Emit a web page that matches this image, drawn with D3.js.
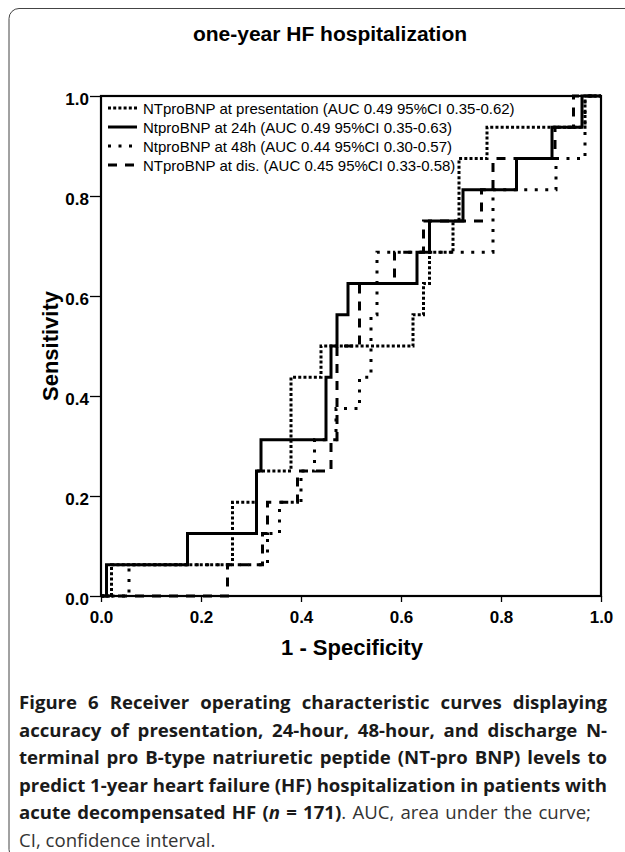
<!DOCTYPE html>
<html>
<head>
<meta charset="utf-8">
<script src="https://cdn.jsdelivr.net/npm/d3@7"></script>
<style>
    body { margin: 0; background: #fff; }
    svg { display: block; }
</style>
</head>
<body>
<div id="chart"></div>
<script>
// ROC steps, 16 hospitalized patients -> sensitivity moves in 1/16 steps
// each point = (1 - specificity, sensitivity) where the curve steps up
const presFpr  = [0, 0.021, 0.263, 0.311, 0.380, 0.440, 0.624, 0.645, 0.657, 0.704, 0.716, 0.772, 0.968, 1];
const presSens = [0, 0.0625, 0.1875, 0.25, 0.4375, 0.5, 0.5625, 0.625, 0.6875, 0.75, 0.875, 0.9375, 1, 1];

const h24Fpr  = [0, 0.011, 0.173, 0.311, 0.320, 0.450, 0.460, 0.472, 0.494, 0.632, 0.657, 0.724, 0.831, 0.902, 0.962, 1];
const h24Sens = [0, 0.0625, 0.125, 0.25, 0.3125, 0.4375, 0.5, 0.5625, 0.625, 0.6875, 0.75, 0.8125, 0.875, 0.9375, 1, 1];

const h48Fpr  = [0, 0.056, 0.333, 0.357, 0.400, 0.427, 0.470, 0.517, 0.540, 0.552, 0.784, 0.910, 0.968, 1];
const h48Sens = [0, 0.0625, 0.125, 0.1875, 0.25, 0.3125, 0.375, 0.4375, 0.5625, 0.6875, 0.8125, 0.875, 1, 1];

const disFpr  = [0, 0.253, 0.323, 0.333, 0.393, 0.460, 0.472, 0.517, 0.587, 0.645, 0.761, 0.784, 0.908, 0.945, 1];
const disSens = [0, 0.0625, 0.125, 0.1875, 0.25, 0.3125, 0.5, 0.625, 0.6875, 0.75, 0.8125, 0.875, 0.9375, 1, 1];

const legendLabels = [
    'NTproBNP at presentation (AUC 0.49 95%CI 0.35-0.62)',
    'NtproBNP at 24h (AUC 0.49 95%CI 0.35-0.63)',
    'NtproBNP at 48h (AUC 0.44 95%CI 0.30-0.57)',
    'NTproBNP at dis. (AUC 0.45 95%CI 0.33-0.58)'
];

const xTicks = [0, 0.2, 0.4, 0.6, 0.8, 1.0];
const yTicks = [0, 0.2, 0.4, 0.6, 0.8, 1.0];

const chartTitle = 'one-year HF hospitalization';
const xTitle = '1 - Specificity';
const yTitle = 'Sensitivity';

// caption lines, each a list of [text, bold, italic]
const captionLines = [
    [['Figure 6 Receiver operating characteristic curves displaying', true, false]],
    [['accuracy of presentation, 24-hour, 48-hour, and discharge N-', true, false]],
    [['terminal pro B-type natriuretic peptide (NT-pro BNP) levels to', true, false]],
    [['predict 1-year heart failure (HF) hospitalization in patients with', true, false]],
    [['acute decompensated HF (', true, false], ['n', true, true], [' = 171)', true, false], ['. AUC, area under the curve;', false, false]],
    [['CI, confidence interval.', false, false]]
];


class RocChart {

    constructor() {
        this.width = 625;
        this.height = 852;

        this.svg = d3.select('#chart')
            .append('svg')
            .attr('width', this.width)
            .attr('height', this.height);

        this.xScale = d3.scaleLinear()
            .domain([0, 1])
            .range([101, 601]);

        this.yScale = d3.scaleLinear()
            .domain([0, 1])
            .range([596, 96]);

        this.series = [
            { fpr: presFpr, sens: presSens, dash: '3,2.2', width: 3 },
            { fpr: h48Fpr, sens: h48Sens, dash: '3,7.5', width: 3 },
            { fpr: disFpr, sens: disSens, dash: '9,8', width: 3 },
            { fpr: h24Fpr, sens: h24Sens, dash: null, width: 3 }
        ];
        // legend order differs from drawing order
        this.legendStyles = [this.series[0], this.series[3], this.series[1], this.series[2]];

        this.drawBorder();
        this.drawCurves();
        this.drawAxes();
        this.drawLegend();
        this.drawCaption();
    }

    drawBorder() {
        this.svg.append('rect')
            .attr('x', 9)
            .attr('y', 8.5)
            .attr('width', 700)
            .attr('height', 851)
            .attr('rx', 10)
            .attr('fill', 'none')
            .attr('stroke', '#444')
            .attr('stroke-width', 1);

        this.svg.append('text')
            .text(chartTitle)
            .attr('x', 330)
            .attr('y', 41)
            .attr('text-anchor', 'middle')
            .attr('font-family', 'Liberation Sans, Arial, sans-serif')
            .attr('font-weight', 'bold')
            .attr('font-size', 21);
    }

    drawCurves() {
        let line = d3.line()
            .x(d => this.xScale(d[0]))
            .y(d => this.yScale(d[1]))
            .curve(d3.curveStepAfter);

        this.svg.append('g')
            .selectAll('path')
            .data(this.series)
            .join('path')
            .attr('d', d => line(d.fpr.map((f, i) => [f, d.sens[i]])))
            .attr('fill', 'none')
            .attr('stroke', 'black')
            .attr('stroke-width', d => d.width)
            .attr('stroke-dasharray', d => d.dash);
    }

    drawAxes() {
        let font = 'Liberation Sans, Arial, sans-serif';

        this.svg.append('rect')
            .attr('x', this.xScale(0))
            .attr('y', this.yScale(1))
            .attr('width', this.xScale(1) - this.xScale(0))
            .attr('height', this.yScale(0) - this.yScale(1))
            .attr('fill', 'none')
            .attr('stroke', 'black')
            .attr('stroke-width', 2.2);

        let xAxis = this.svg.append('g')
            .attr('transform', `translate(0,${this.yScale(0)})`)
            .call(d3.axisBottom(this.xScale)
                .tickValues(xTicks)
                .tickFormat(d3.format('.1f'))
                .tickSize(6)
                .tickPadding(9));

        let yAxis = this.svg.append('g')
            .attr('transform', `translate(${this.xScale(0)},0)`)
            .call(d3.axisLeft(this.yScale)
                .tickValues(yTicks)
                .tickFormat(d3.format('.1f'))
                .tickSize(11)
                .tickPadding(1));

        [xAxis, yAxis].forEach(g => {
            g.select('.domain').remove();
            g.selectAll('line').attr('stroke', 'black').attr('stroke-width', 1.3);
            g.selectAll('text')
                .attr('font-family', font)
                .attr('font-weight', 'bold')
                .attr('font-size', 17)
                .attr('fill', 'black');
        });
        yAxis.selectAll('text').attr('dy', '0.5em');

        this.svg.append('text')
            .text(xTitle)
            .attr('x', 352)
            .attr('y', 655)
            .attr('text-anchor', 'middle')
            .attr('font-family', font)
            .attr('font-weight', 'bold')
            .attr('font-size', 22);

        this.svg.append('text')
            .text(yTitle)
            .attr('transform', 'translate(58,346) rotate(-90)')
            .attr('text-anchor', 'middle')
            .attr('font-family', font)
            .attr('font-weight', 'bold')
            .attr('font-size', 22);
    }

    drawLegend() {
        let rowY = d3.scaleLinear().domain([0, 3]).range([108, 165]);

        let rows = this.svg.append('g')
            .selectAll('g')
            .data(legendLabels)
            .join('g')
            .attr('transform', (d, i) => `translate(0,${rowY(i)})`);

        rows.append('line')
            .attr('x1', 108)
            .attr('x2', 137)
            .attr('y1', 0)
            .attr('y2', 0)
            .attr('stroke', 'black')
            .attr('stroke-width', (d, i) => this.legendStyles[i].width)
            .attr('stroke-dasharray', (d, i) => this.legendStyles[i].dash);

        rows.append('text')
            .text(d => d)
            .attr('x', 143)
            .attr('y', 5.5)
            .attr('font-family', 'Liberation Sans, Arial, sans-serif')
            .attr('font-size', 15)
            .attr('fill', 'black');
    }

    drawCaption() {
        let left = 19;
        let lineWidths = [588, 588, 588, 588, 572, 0];

        let texts = this.svg.append('g')
            .selectAll('text')
            .data(captionLines)
            .join('text')
            .attr('x', left)
            .attr('y', (d, i) => 709 + i * 27.6)
            .attr('font-family', 'Open Sans, sans-serif')
            .attr('font-size', 18.6)
            .attr('xml:space', 'preserve');

        texts.selectAll('tspan')
            .data(d => d)
            .join('tspan')
            .text(d => d[0])
            .attr('font-weight', d => d[1] ? 'bold' : 'normal')
            .attr('font-style', d => d[2] ? 'italic' : 'normal')
            .attr('fill', d => d[1] ? '#1a1a1a' : '#333');

        // justify lines by spreading the word gaps
        texts.each(function (d, i) {
            let target = lineWidths[i];
            if (!target) return;
            let len = this.getComputedTextLength();
            let gaps = d.map(s => s[0]).join('').split(' ').length - 1;
            d3.select(this).attr('word-spacing', (target - len) / gaps);
        });
    }
}

new RocChart();
</script>
</body>
</html>
